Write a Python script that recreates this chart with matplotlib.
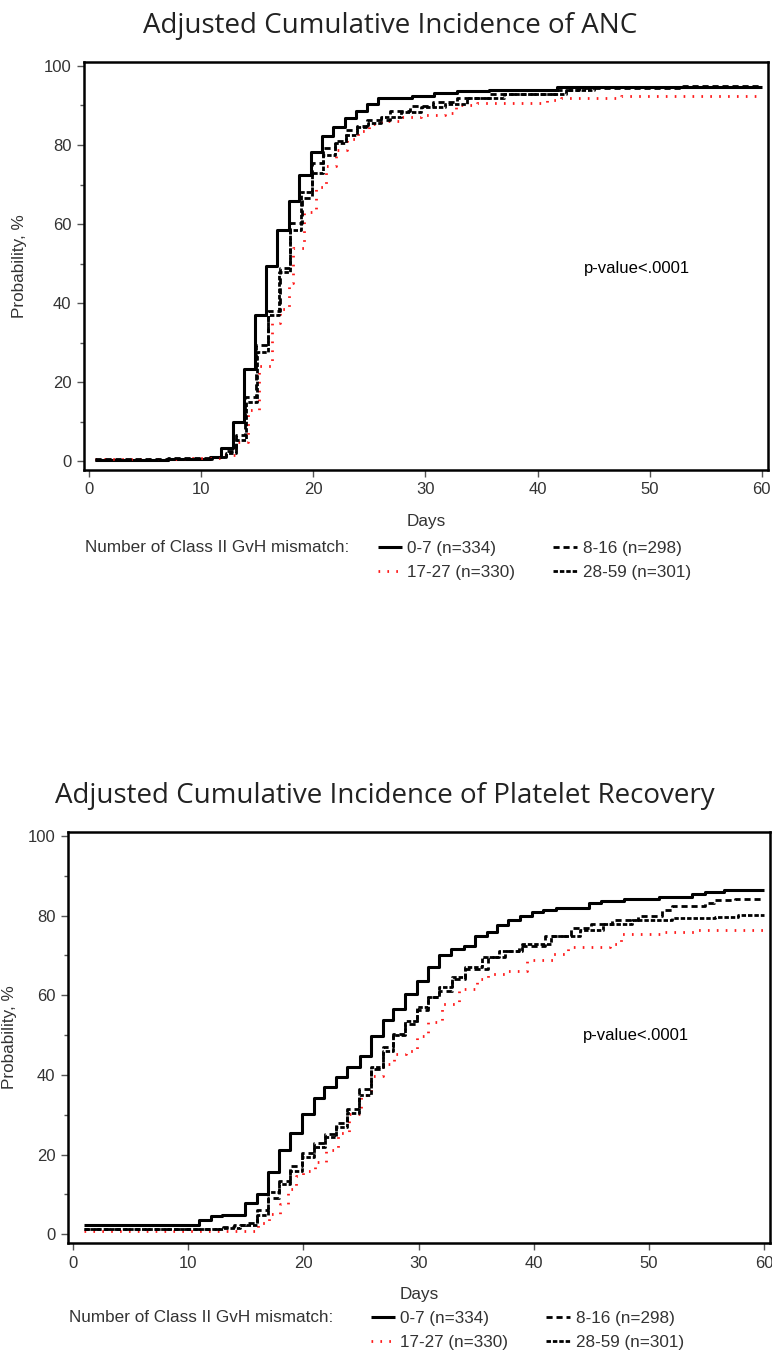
import numpy as np
import matplotlib
matplotlib.use("Agg")
import matplotlib.pyplot as plt
from matplotlib.ticker import MultipleLocator

# ---- data ----
groups = ["0-7 (n=334)", "17-27 (n=330)", "8-16 (n=298)", "28-59 (n=301)"]

# ANC
anc_days_07 = [0.5, 7.0, 10.8, 11.8, 12.8, 13.85, 14.8, 15.8, 16.8, 17.8, 18.7, 19.8, 20.8, 21.8,
               22.8, 23.8, 24.8, 25.8, 28.8, 30.8, 32.8, 35.7, 41.7, 60.0]
anc_prob_07 = [0.4, 0.6, 1.0, 3.3, 10.0, 23.4, 37.0, 49.3, 58.5, 65.8, 72.3, 78.2, 82.2, 84.6,
               86.8, 88.7, 90.3, 91.9, 92.5, 93.1, 93.7, 93.9, 94.6, 94.6]
anc_days_816 = [0.5, 7.0, 11.0, 12.2, 13.1, 13.9, 14.9, 16.0, 17.0, 17.9, 19.0, 19.9, 20.9,
                21.9, 22.9, 23.9, 24.8, 26.8, 28.6, 30.7, 32.8, 35.7, 41.7, 43.7, 53.0, 60.0]
anc_prob_816 = [0.5, 0.8, 1.2, 2.5, 6.6, 16.3, 29.5, 38.1, 49.0, 60.4, 66.7, 75.5, 79.3,
                81.0, 83.7, 84.7, 86.4, 88.5, 89.8, 91.0, 92.0, 92.9, 94.0, 94.5, 95.0, 95.0]
anc_days_1727 = [0.5, 9.0, 12.0, 13.1, 14.2, 15.2, 16.3, 17.0, 17.8, 18.2, 19.2, 20.2, 21.1,
                 22.0, 23.0, 24.0, 25.0, 26.0, 27.8, 29.6, 31.7, 32.7, 34.6, 40.8, 42.1, 47.4, 60.0]
anc_prob_1727 = [0.5, 0.8, 1.5, 5.0, 13.0, 24.0, 35.0, 38.5, 45.0, 54.0, 63.0, 69.5, 74.8,
                 78.8, 81.6, 83.5, 85.3, 86.2, 87.2, 87.7, 88.0, 90.2, 90.6, 91.4, 91.9, 92.3, 92.3]
anc_days_2859 = [0.5, 7.0, 11.0, 12.2, 13.1, 14.0, 15.0, 16.0, 16.9, 17.9, 18.9, 19.9, 20.9,
                 21.9, 22.9, 23.9, 24.9, 26.0, 27.8, 29.6, 31.7, 33.7, 37.0, 42.5, 45.0, 60.0]
anc_prob_2859 = [0.4, 0.7, 1.0, 2.0, 5.5, 15.0, 27.6, 37.0, 48.0, 58.5, 68.0, 73.0, 77.5,
                 80.5, 82.5, 84.5, 85.6, 87.2, 88.3, 89.5, 90.5, 91.8, 92.8, 93.8, 94.7, 94.7]

# Platelet recovery
plt_days_07 = [1.0, 10.9, 12.0, 12.9, 14.9, 16.0, 16.9, 17.9, 18.8, 19.9, 20.9, 21.8, 22.8, 23.8,
               24.9, 25.9, 26.9, 27.8, 28.8, 29.9, 30.8, 31.8, 32.8, 33.9, 34.9, 35.9, 36.8, 37.8,
               38.8, 39.8, 40.8, 41.9, 44.8, 45.8, 47.8, 50.9, 53.7, 54.9, 56.5, 60.0]
plt_prob_07 = [2.3, 3.5, 4.5, 4.9, 7.9, 10.2, 15.6, 21.1, 25.5, 30.1, 34.3, 37.0, 39.4, 42.1,
               44.8, 49.9, 53.7, 56.6, 60.4, 63.7, 67.1, 70.0, 71.5, 72.3, 74.9, 76.0, 77.6, 79.0,
               79.8, 80.9, 81.5, 82.0, 83.1, 83.7, 84.3, 84.8, 85.4, 86.0, 86.5, 86.5]
plt_days_816 = [1.0, 13.0, 14.0, 15.0, 16.0, 16.9, 17.9, 18.8, 19.9, 20.9, 21.9, 22.8, 23.8,
                24.8, 25.9, 26.9, 27.8, 28.8, 29.9, 30.8, 31.8, 32.9, 34.0, 36.0, 37.5, 38.7,
                41.0, 43.2, 45.0, 46.8, 49.0, 51.1, 52.0, 54.9, 55.6, 57.5, 60.0]
plt_prob_816 = [1.4, 1.8, 2.3, 2.8, 6.2, 9.2, 13.3, 17.1, 20.5, 23.0, 25.2, 28.0, 31.4,
                36.5, 41.5, 46.9, 50.3, 52.8, 56.2, 59.5, 61.2, 64.2, 66.5, 69.6, 71.0, 72.5,
                75.0, 76.8, 77.8, 78.8, 79.8, 81.4, 82.4, 83.1, 83.9, 84.3, 84.3]
plt_days_1727 = [1.0, 16.1, 17.0, 18.0, 18.7, 19.4, 20.0, 21.0, 22.0, 23.0, 24.0, 25.0, 25.9,
                 26.9, 27.9, 28.9, 29.9, 30.8, 32.0, 33.5, 35.1, 36.0, 37.5, 39.4, 41.7, 43.0,
                 46.6, 47.6, 51.4, 54.0, 60.0]
plt_prob_1727 = [0.9, 2.7, 5.2, 7.5, 11.3, 14.6, 15.9, 18.2, 21.1, 25.5, 30.1, 35.0, 39.8,
                 42.7, 45.2, 46.1, 49.9, 53.2, 57.9, 61.6, 64.2, 65.4, 66.2, 68.8, 70.4, 72.1,
                 73.0, 75.5, 76.0, 76.4, 76.4]
plt_days_2859 = [1.0, 13.0, 14.5, 16.0, 16.9, 17.9, 18.8, 19.9, 20.9, 21.9, 22.8, 23.8, 24.8,
                 25.9, 26.9, 27.8, 28.8, 29.9, 30.8, 31.8, 32.9, 34.0, 35.5, 37.0, 39.0, 41.5,
                 44.0, 46.0, 48.5, 52.0, 55.7, 57.7, 60.0]
plt_prob_2859 = [1.2, 1.6, 2.2, 4.8, 10.5, 12.5, 16.0, 19.5, 22.0, 24.5, 27.0, 30.5, 35.0,
                 42.0, 46.0, 50.0, 53.5, 57.0, 59.5, 62.0, 64.5, 67.0, 69.5, 71.0, 73.0, 74.8,
                 76.5, 77.8, 78.8, 79.3, 79.7, 80.1, 80.1]

# line styles per group: color, width, dash pattern (None = solid)
styles = {
    "0-7 (n=334)": ("black", 2.2, None),
    "17-27 (n=330)": ("#ff1a1a", 2.0, (0.6, 2.6)),
    "8-16 (n=298)": ("black", 2.0, (2.2, 1.4)),
    "28-59 (n=301)": ("black", 2.0, (1.6, 0.7)),
}

W, H = 772, 1353
fig = plt.figure(figsize=(W / 100, H / 100), dpi=100)
TXT = "#333333"
TICKFONT = "Liberation Sans"
TITLEFONT = "Open Sans"
FS = 12.3


def panel(rect, xlim, curves, title, title_xy, lab_x, pv_xy, leg_x, leg_y, leg_hx):
    ax = fig.add_axes(rect)
    lines = []
    for g, (d, p) in zip(groups, curves):
        c, lw, dash = styles[g]
        ln, = ax.plot(d, p, drawstyle="steps-post", color=c, lw=lw, label=g,
                      solid_capstyle="butt", dash_capstyle="butt")
        if dash is not None:
            ln.set_dashes(dash)
        lines.append(ln)
    ax.set_xlim(*xlim)
    ax.set_ylim(-2.2, 101)
    ax.xaxis.set_major_locator(MultipleLocator(10))
    ax.yaxis.set_major_locator(MultipleLocator(20))
    ax.yaxis.set_minor_locator(MultipleLocator(10))
    for s in ax.spines.values():
        s.set_linewidth(1.8)
    ax.tick_params(which="both", direction="out", color="#555555", width=1, labelcolor=TXT)
    ax.tick_params(which="major", length=5, labelsize=12, pad=4)
    ax.tick_params(which="minor", length=3)
    for t in ax.get_xticklabels() + ax.get_yticklabels():
        t.set_fontfamily(TICKFONT)
    ax.set_xlabel("Days", fontsize=FS, family=TICKFONT, color=TXT, labelpad=12)
    ax.set_ylabel("Probability, %", fontsize=FS, family=TICKFONT, color=TXT)
    ax.yaxis.set_label_coords(lab_x, 0.5)
    ax.text(pv_xy[0], pv_xy[1], "p-value<.0001", transform=ax.transAxes, ha="center",
            va="center", fontsize=12, family=TICKFONT, color="black")
    fig.text(title_xy[0] / W, 1 - title_xy[1] / H, title, ha="center", va="center",
             fontsize=20, family=TITLEFONT, color="#222222")
    fig.text(leg_x / W, 1 - leg_y / H, "Number of Class II GvH mismatch:", ha="left",
             va="center", fontsize=FS, family=TICKFONT, color=TXT)
    fig.legend(handles=lines, ncol=2, frameon=False, loc="upper left",
               bbox_to_anchor=(leg_hx / W, 1 - (leg_y - 7) / H),
               borderaxespad=0, borderpad=0, handlelength=1.4, handletextpad=0.3,
               columnspacing=2.25, labelspacing=0.55,
               prop={"family": TICKFONT, "size": FS}, labelcolor=TXT)
    return ax


panel([84 / W, 1 - 470 / H, 684 / W, 408 / H], (-0.45, 60.55),
      [(anc_days_07, anc_prob_07), (anc_days_1727, anc_prob_1727),
       (anc_days_816, anc_prob_816), (anc_days_2859, anc_prob_2859)],
      "Adjusted Cumulative Incidence of ANC", (390, 26), -0.083, (0.808, 0.495),
      85, 548, 378)

panel([68 / W, 1 - 1243 / H, 702 / W, 411 / H], (-0.43, 60.5),
      [(plt_days_07, plt_prob_07), (plt_days_1727, plt_prob_1727),
       (plt_days_816, plt_prob_816), (plt_days_2859, plt_prob_2859)],
      "Adjusted Cumulative Incidence of Platelet Recovery", (385, 796), -0.072, (0.809, 0.506),
      69, 1318, 371)

fig.savefig("out.png", dpi=100)
